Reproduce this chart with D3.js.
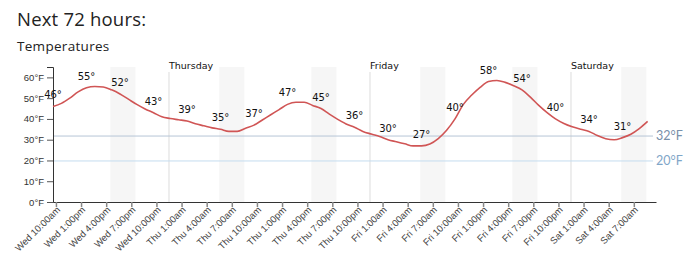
<html>
  <head>
    <style>
      body {
        margin: 0;
        background: #fff;
        font-family: "Liberation Sans", Arial, sans-serif;
      }
      .title {
        font-family: "Open Sans", Lato, sans-serif;
        fill: #222;
      }
      .axis text {
        font-family: "Liberation Sans", Arial, sans-serif;
        font-size: 9.5px;
        fill: #333;
      }
      .temp-label {
        font-family: "DejaVu Sans", Verdana, sans-serif;
        font-size: 10px;
        fill: #111;
      }
      .day-label {
        font-family: "DejaVu Sans", Verdana, sans-serif;
        font-size: 9.5px;
        fill: #111;
      }
    </style>
  </head>
  <body>
    <script src="https://d3js.org/d3.v7.min.js"></script>
    <script>
      var width = 694, height = 258;

      // hourly temperatures starting Wed ~10am (72 hours)
      var temps = [46, 47.5, 50, 53, 55, 55.6, 55.4, 54, 52, 49.5, 47, 44.8,
                   43, 41, 40.2, 39.6, 39, 37.7, 36.7, 35.7, 35, 34, 34, 35.5,
                   37, 39.5, 42, 44.5, 47, 48, 48, 46.5, 45, 42.3, 39.8, 37.6,
                   36, 34, 32.7, 31.5, 30, 29, 28, 27, 27, 27.9, 30.5, 34.5,
                   40, 47, 51.5, 55.2, 58, 58.5, 57.6, 56, 54, 50.5, 46.5, 43,
                   40, 37.8, 36.2, 35, 34, 32, 30.5, 30, 31, 32.6, 35.3, 38.8];

      // hours after Wed 00:00 of the first point
      var startHour = 10.15;
      var labelEvery = 4;

      var tickHours = [10, 13, 16, 19, 22, 25, 28, 31, 34, 37, 40, 43, 46, 49, 52, 55, 58, 61, 64, 67, 70, 73, 76, 79];
      var tickLabels = ["Wed 10:00am", "Wed 1:00pm", "Wed 4:00pm", "Wed 7:00pm", "Wed 10:00pm",
                        "Thu 1:00am", "Thu 4:00am", "Thu 7:00am", "Thu 10:00am", "Thu 1:00pm", "Thu 4:00pm", "Thu 7:00pm", "Thu 10:00pm",
                        "Fri 1:00am", "Fri 4:00am", "Fri 7:00am", "Fri 10:00am", "Fri 1:00pm", "Fri 4:00pm", "Fri 7:00pm", "Fri 10:00pm",
                        "Sat 1:00am", "Sat 4:00am", "Sat 7:00am"];

      var dayNames = ["Thursday", "Friday", "Saturday"];
      var dayHours = [24, 48, 72];

      var shadeBands = [[17, 20], [30, 33], [41, 44], [54, 57], [65, 68], [78, 81]];

      var thresholds = [32, 20];
      var thresholdColors = ["#b6c6d6", "#c4dcef"];
      var thresholdTextColors = ["#7890aa", "#7fa6c8"];

      var yTicks = [0, 10, 20, 30, 40, 50, 60];

      var svg = d3.select("body").append("svg")
          .attr("width", width)
          .attr("height", height);

      svg.append("text").attr("class", "title")
          .attr("x", 17).attr("y", 26)
          .style("font-size", "18.5px")
          .style("letter-spacing", "0.2px")
          .text("Next 72 hours:");

      svg.append("text").attr("class", "title")
          .attr("x", 17).attr("y", 51)
          .style("font-size", "13.5px")
          .style("letter-spacing", "0.3px")
          .text("Temperatures");

      var x0 = 53, x1 = 656, yTop = 67, yBottom = 202;

      var x = d3.scaleLinear()
          .domain([startHour, startHour + 72])
          .range([x0, x1]);

      var y = d3.scaleLinear()
          .domain([0, 65])
          .range([yBottom, yTop]);

      // shaded bands
      svg.append("g")
        .selectAll("rect")
        .data(shadeBands)
        .enter().append("rect")
          .attr("x", function(d){ return x(d[0]); })
          .attr("y", yTop)
          .attr("width", function(d){ return x(d[1]) - x(d[0]); })
          .attr("height", yBottom - yTop)
          .attr("fill", "#f6f6f6");

      // day separators
      var days = svg.append("g")
        .selectAll("g")
        .data(dayHours)
        .enter().append("g");

      days.append("line")
          .attr("x1", function(d){ return x(d); })
          .attr("x2", function(d){ return x(d); })
          .attr("y1", 72)
          .attr("y2", yBottom)
          .attr("stroke", "#dcdcdc")
          .attr("stroke-width", 1);

      days.append("text")
          .attr("class", "day-label")
          .attr("x", function(d){ return x(d); })
          .attr("y", 69)
          .text(function(d, i){ return dayNames[i]; });

      // threshold lines
      var th = svg.append("g")
        .selectAll("g")
        .data(thresholds)
        .enter().append("g");

      th.append("line")
          .attr("x1", x0)
          .attr("x2", 653)
          .attr("y1", function(d){ return y(d) + 0.5; })
          .attr("y2", function(d){ return y(d) + 0.5; })
          .attr("stroke", function(d, i){ return thresholdColors[i]; })
          .attr("stroke-width", 1);

      th.append("text")
          .attr("x", 656)
          .attr("y", function(d){ return y(d) + 4.5; })
          .style("font-family", "Lato, 'Open Sans', sans-serif")
          .style("font-size", "12.5px")
          .attr("fill", function(d, i){ return thresholdTextColors[i]; })
          .text(function(d){ return d + "°F"; });

      // y axis
      var yAxis = svg.append("g")
          .attr("class", "axis")
          .attr("transform", "translate(" + x0 + ",0)")
          .call(d3.axisLeft(y).tickValues(yTicks).tickSize(6).tickFormat(function(d){ return d + "°F"; }));
      yAxis.select(".domain").attr("stroke", "#333");
      yAxis.selectAll(".tick line").attr("stroke", "#555");

      // x axis
      var xAxis = svg.append("g")
          .attr("class", "axis")
          .attr("transform", "translate(0," + yBottom + ")")
          .call(d3.axisBottom(x).tickValues(tickHours.map(function(d){ return d + 0.5; }))
            .tickSizeInner(5).tickSizeOuter(0)
            .tickFormat(function(d, i){ return tickLabels[i]; }));
      xAxis.select(".domain").attr("stroke", "#333");
      xAxis.selectAll(".tick line").attr("stroke", "#888").attr("stroke-width", 1.5);
      xAxis.selectAll(".tick text")
          .style("text-anchor", "end")
          .style("fill", "#444")
          .attr("dx", "-0.3em")
          .attr("dy", "0.1em")
          .attr("transform", "rotate(-45)");

      // temperature line
      var line = d3.line()
          .x(function(d, i){ return x(startHour + i); })
          .y(function(d){ return y(d); })
          .curve(d3.curveMonotoneX);

      svg.append("path")
          .datum(temps)
          .attr("fill", "none")
          .attr("stroke", "#d05555")
          .attr("stroke-width", 1.6)
          .attr("d", line);

      // labels every 4 hours
      var labelIdx = d3.range(0, temps.length, labelEvery);
      svg.append("g")
        .selectAll("text")
        .data(labelIdx)
        .enter().append("text")
          .attr("class", "temp-label")
          .attr("text-anchor", "middle")
          .attr("x", function(i){ return x(startHour + i); })
          .attr("y", function(i){ return y(temps[i]) - 8; })
          .text(function(i){ return Math.round(temps[i]) + "°"; });
    </script>
  </body>
</html>
